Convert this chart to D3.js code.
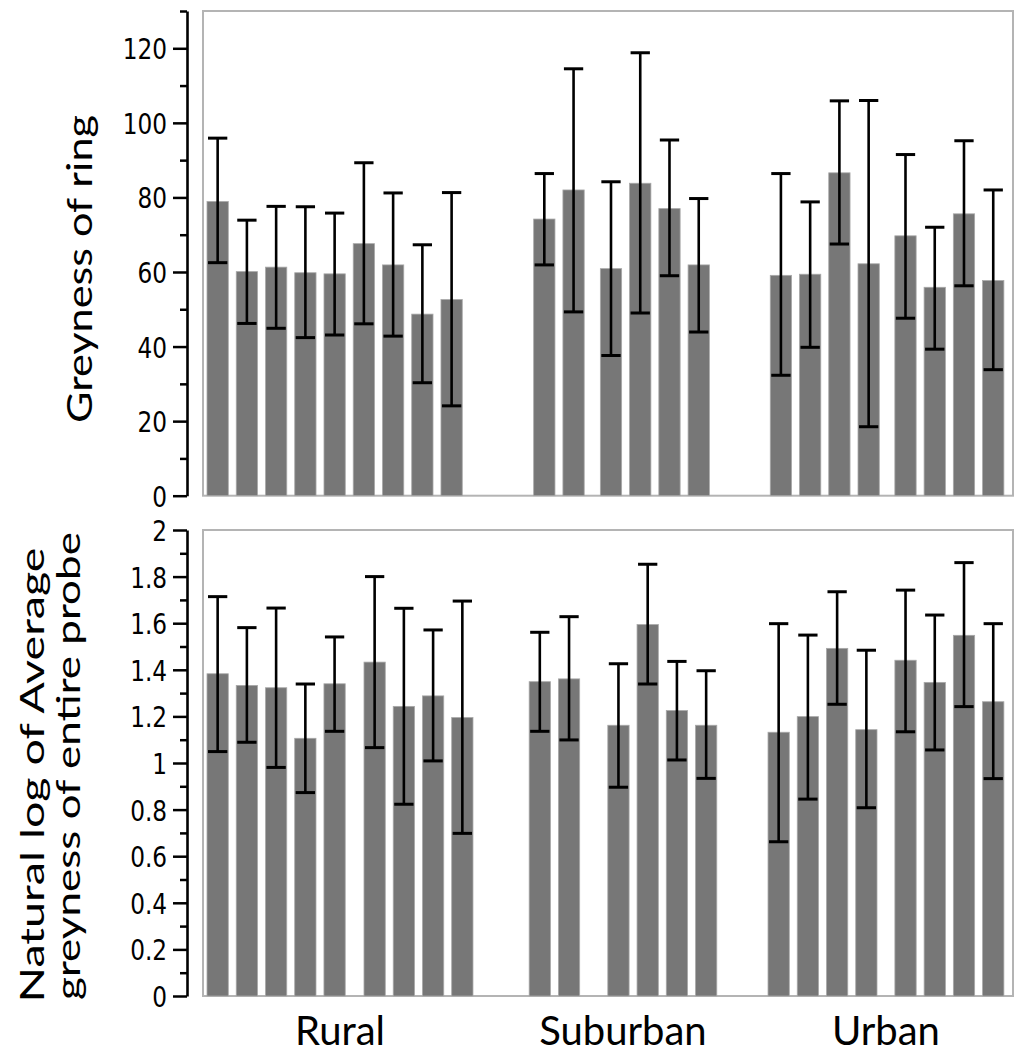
<!DOCTYPE html>
<html>
<head>
<meta charset="utf-8">
<script src="https://cdn.jsdelivr.net/npm/d3@7"></script>
<style>
  body { margin: 0; background: #fff; }
  svg { display: block; }
</style>
</head>
<body>
<svg id="chart" width="1024" height="1053"></svg>
<script>
// ---------------- DATA ----------------
const groups = ["Rural", "Suburban", "Urban"];
const subgroupSizes = [[5, 4], [2, 4], [4, 4]];

// Top panel: Greyness of ring (mean, upper, lower)
const ringMean  = [78.9, 60.1, 61.3, 59.8, 59.5, 67.6, 61.9, 48.7, 52.6,
                   74.2, 82.0, 60.9, 83.8, 77.0, 61.9,
                   59.1, 59.4, 86.6, 62.2, 69.7, 55.9, 75.6, 57.7];
const ringUpper = [95.9, 73.9, 77.6, 77.5, 75.8, 89.3, 81.2, 67.3, 81.3,
                   86.4, 114.5, 84.2, 118.8, 95.4, 79.7,
                   86.4, 78.8, 105.9, 106.0, 91.5, 72.0, 95.2, 82.0];
const ringLower = [62.5, 46.2, 44.9, 42.4, 43.1, 46.1, 42.8, 30.3, 24.1,
                   61.9, 49.3, 37.6, 49.0, 59.0, 43.9,
                   32.3, 39.8, 67.5, 18.5, 47.6, 39.3, 56.3, 33.8];

// Bottom panel: Natural log of average greyness of entire probe
const logMean  = [1.383, 1.333, 1.323, 1.106, 1.340, 1.433, 1.243, 1.288, 1.195,
                  1.349, 1.361, 1.162, 1.594, 1.225, 1.162,
                  1.132, 1.199, 1.492, 1.143, 1.441, 1.346, 1.548, 1.263];
const logUpper = [1.714, 1.581, 1.665, 1.339, 1.541, 1.800, 1.664, 1.571, 1.695,
                  1.561, 1.628, 1.426, 1.853, 1.436, 1.396,
                  1.598, 1.549, 1.735, 1.484, 1.742, 1.635, 1.860, 1.598];
const logLower = [1.049, 1.089, 0.981, 0.873, 1.136, 1.066, 0.823, 1.009, 0.698,
                  1.136, 1.099, 0.896, 1.339, 1.013, 0.934,
                  0.662, 0.845, 1.252, 0.808, 1.134, 1.056, 1.242, 0.933];

const ringTicks = [0, 20, 40, 60, 80, 100, 120];
const ringMinorTicks = [10, 30, 50, 70, 90, 110, 130];
const logTicks = [0, 0.2, 0.4, 0.6, 0.8, 1, 1.2, 1.4, 1.6, 1.8, 2];
const logTickLabels = ["0", "0.2", "0.4", "0.6", "0.8", "1", "1.2", "1.4", "1.6", "1.8", "2"];
const logMinorTicks = [0.1, 0.3, 0.5, 0.7, 0.9, 1.1, 1.3, 1.5, 1.7, 1.9];

const ringTitle = ["Greyness of ring"];
const logTitle = ["Natural log of Average", "greyness of entire probe"];

// ---------------- LAYOUT / STYLE ----------------
const svg = d3.select("#chart");
const FRAME_L = 203, FRAME_R = 1013, AXIS_X = 187;
const BAR_W = 0.728;     // bar width in slot units
const CAP_W = 0.66;      // error cap width in slot units
const BAR_FILL = "#777777";

const panels = [
  {
    mean: ringMean, upper: ringUpper, lower: ringLower,
    domain: [0, 130], yTop: 11, yBottom: 495.7,
    ticks: ringTicks, labels: ringTicks.map(String), minor: ringMinorTicks,
    gaps: [0, 2.17, 0.28, 1.81, 0.26],
    title: ringTitle, titleBase: [92], titleMid: [269], titleLen: [308], titleSize: 35
  },
  {
    mean: logMean, upper: logUpper, lower: logLower,
    domain: [0, 2], yTop: 530, yBottom: 996,
    ticks: logTicks, labels: logTickLabels, minor: logMinorTicks,
    gaps: [0.37, 1.65, 0.69, 1.48, 0.34],
    title: logTitle, titleBase: [44, 80], titleMid: [775, 766], titleLen: [455, 468], titleSize: 33
  }
];

function slotLayout(gaps) {
  const pos = [];
  let u = 0, k = 0;
  groups.forEach((g, gi) => {
    subgroupSizes[gi].forEach((n, si) => {
      if (gi > 0 || si > 0) u += gaps[k++];
      for (let i = 0; i < n; i++) { pos.push({ u: u, group: gi }); u += 1; }
    });
  });
  return pos;
}

let lastLayout = null, lastX = null;

panels.forEach((p, pi) => {
  const pos = slotLayout(p.gaps);
  const lastU = pos[pos.length - 1].u;
  const x = d3.scaleLinear().domain([-0.137, lastU + 1.04]).range([FRAME_L, FRAME_R]);
  const y = d3.scaleLinear().domain(p.domain).range([p.yBottom, p.yTop]);
  const g = svg.append("g");

  // frame
  g.append("rect")
    .attr("x", FRAME_L).attr("y", p.yTop)
    .attr("width", FRAME_R - FRAME_L).attr("height", p.yBottom - p.yTop)
    .attr("fill", "none").attr("stroke", "#b4b4b4").attr("stroke-width", 2);

  const data = p.mean.map((m, i) => ({ m: m, hi: p.upper[i], lo: p.lower[i], u: pos[i].u }));

  // bars
  g.selectAll("rect.bar").data(data).join("rect")
    .attr("class", "bar")
    .attr("x", d => x(d.u))
    .attr("width", d => x(d.u + BAR_W) - x(d.u))
    .attr("y", d => y(d.m))
    .attr("height", d => y(0) - y(d.m))
    .attr("fill", BAR_FILL)
    .attr("stroke", "#a8a8a8").attr("stroke-width", 0.8);

  // error bars
  const eb = g.selectAll("g.err").data(data).join("g").attr("class", "err")
    .attr("stroke", "#000").attr("stroke-width", 2.6).attr("fill", "none");
  eb.append("line")
    .attr("x1", d => x(d.u + BAR_W / 2)).attr("x2", d => x(d.u + BAR_W / 2))
    .attr("y1", d => y(d.hi)).attr("y2", d => y(d.lo));
  eb.append("line")
    .attr("x1", d => x(d.u + BAR_W / 2 - CAP_W / 2)).attr("x2", d => x(d.u + BAR_W / 2 + CAP_W / 2))
    .attr("y1", d => y(d.hi)).attr("y2", d => y(d.hi)).attr("stroke-width", 3);
  eb.append("line")
    .attr("x1", d => x(d.u + BAR_W / 2 - CAP_W / 2)).attr("x2", d => x(d.u + BAR_W / 2 + CAP_W / 2))
    .attr("y1", d => y(d.lo)).attr("y2", d => y(d.lo)).attr("stroke-width", 3);

  // minor ticks
  const minorAxis = d3.axisLeft(y).tickValues(p.minor).tickSize(7).tickSizeOuter(0).tickFormat("");
  const gm = svg.append("g").attr("transform", `translate(${AXIS_X},0)`).call(minorAxis);
  gm.select(".domain").remove();
  gm.selectAll("line").attr("stroke", "#000").attr("stroke-width", 2.5);

  // major axis
  const majorAxis = d3.axisLeft(y).tickValues(p.ticks).tickSize(14).tickSizeOuter(0)
    .tickPadding(6).tickFormat((d, i) => p.labels[i]);
  const ga = svg.append("g").attr("transform", `translate(${AXIS_X},0)`).call(majorAxis);
  ga.select(".domain").attr("stroke", "#000").attr("stroke-width", 2.6);
  ga.selectAll(".tick line").attr("stroke", "#000").attr("stroke-width", 2.5);
  const SX = 0.8;
  ga.selectAll(".tick text")
    .attr("font-family", "'DejaVu Sans', sans-serif")
    .attr("font-size", 29)
    .attr("fill", "#000")
    .attr("x", -20 / SX)
    .attr("transform", `scale(${SX},1)`)
    .attr("dy", "0.36em");

  // y title
  p.title.forEach((t, ti) => {
    svg.append("text")
      .attr("transform", `translate(${p.titleBase[ti]},${p.titleMid[ti]}) rotate(-90)`)
      .attr("text-anchor", "middle")
      .attr("font-family", "Lato, 'Open Sans', sans-serif")
      .attr("font-size", p.titleSize)
      .attr("textLength", p.titleLen[ti])
      .attr("lengthAdjust", "spacingAndGlyphs")
      .attr("fill", "#000")
      .text(t);
  });

  lastLayout = pos; lastX = x;
});

// group labels (centered under bottom panel groups)
groups.forEach((name, gi) => {
  const us = lastLayout.filter(d => d.group === gi).map(d => d.u);
  const cx = (lastX(d3.min(us)) + lastX(d3.max(us) + BAR_W)) / 2;
  svg.append("text")
    .attr("x", cx).attr("y", 1045)
    .attr("text-anchor", "middle")
    .attr("font-family", "Lato, 'Open Sans', sans-serif")
    .attr("font-size", 40)
    .attr("fill", "#000")
    .text(name);
});
</script>
</body>
</html>
